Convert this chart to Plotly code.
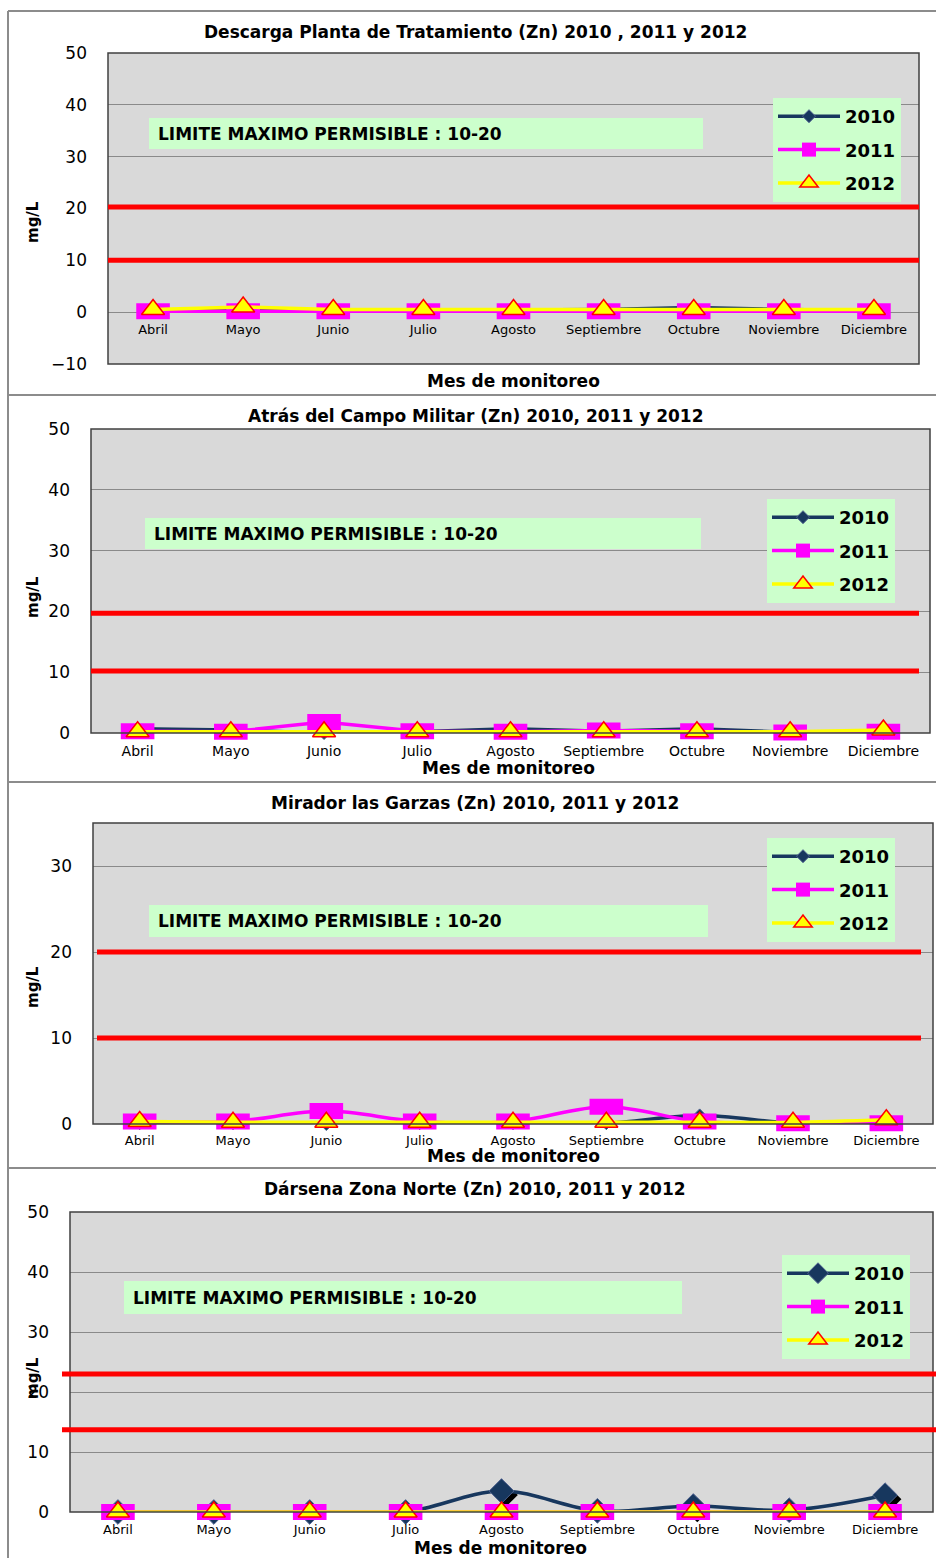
import plotly.graph_objects as go

W, H = 936, 1558

# ---------------- data ----------------
months = ["Abril", "Mayo", "Junio", "Julio", "Agosto", "Septiembre", "Octubre", "Noviembre", "Diciembre"]
years = ["2010", "2011", "2012"]

titles = [
    "Descarga Planta de Tratamiento (Zn) 2010 , 2011 y 2012",
    "Atrás del Campo Militar (Zn) 2010, 2011 y 2012",
    "Mirador las Garzas (Zn) 2010, 2011 y 2012",
    "Dársena Zona Norte (Zn) 2010, 2011 y 2012",
]

p1_2010 = [0.3, 0.3, 0.3, 0.3, 0.4, 0.5, 0.9, 0.5, 0.3]
p1_2011 = [0.2, 0.2, 0.2, 0.2, 0.2, 0.2, 0.2, 0.2, 0.2]
p1_2012 = [0.5, 1.0, 0.5, 0.5, 0.5, 0.5, 0.5, 0.5, 0.5]

p2_2010 = [0.7, 0.5, 0.0, 0.2, 0.7, 0.3, 0.7, 0.1, 0.0]
p2_2011 = [0.3, 0.2, 1.8, 0.3, 0.2, 0.4, 0.3, 0.1, 0.2]
p2_2012 = [0.2, 0.2, 0.2, 0.2, 0.2, 0.2, 0.2, 0.2, 0.5]

p3_2010 = [0.1, 0.1, 0.0, 0.1, 0.1, 0.1, 1.0, 0.1, 0.0]
p3_2011 = [0.3, 0.3, 1.5, 0.3, 0.3, 2.0, 0.3, 0.1, 0.1]
p3_2012 = [0.3, 0.2, 0.2, 0.2, 0.2, 0.2, 0.2, 0.2, 0.5]

p4_2010 = [0.0, 0.0, 0.0, 0.0, 3.5, 0.2, 1.0, 0.3, 2.8]
p4_2011 = [0.0, 0.0, 0.0, 0.0, 0.0, 0.0, 0.0, 0.0, 0.0]
p4_2012 = [0.0, 0.0, 0.0, 0.0, 0.0, 0.0, 0.0, 0.0, 0.0]

series = [
    (p1_2010, p1_2011, p1_2012),
    (p2_2010, p2_2011, p2_2012),
    (p3_2010, p3_2011, p3_2012),
    (p4_2010, p4_2011, p4_2012),
]

limits = [(20.3, 10.0), (19.7, 10.2), (20.0, 10.0), (23.0, 13.7)]
y_ranges = [(-10, 50), (0, 50), (0, 35), (0, 50)]
limit_text = "LIMITE MAXIMO PERMISIBLE : 10-20"
x_title = "Mes de monitoreo"
y_title = "mg/L"

# ---------------- layout geometry (pixels) ----------------
panels = [
    dict(plot=(108, 919, 53, 364), title_y=32, xt=(513, 381), yl=(33, 222),
         green=(149, 703, 118, 149), legend=(773, 98), tickfont=13, standoff=8,
         red=(108, 919), shape="linear", dsize=10, shadow=False),
    dict(plot=(91, 930, 429, 733), title_y=416, xt=(509, 768), yl=(33, 597),
         green=(145, 701, 518, 549), legend=(767, 499), tickfont=14, standoff=8,
         red=(91, 919), shape="linear", dsize=10, shadow=False),
    dict(plot=(93, 933, 823, 1124), title_y=803, xt=(513, 1156), yl=(33, 987),
         green=(149, 708, 905, 937), legend=(767, 838), tickfont=13, standoff=7,
         red=(97, 921), shape="spline", dsize=10, shadow=False),
    dict(plot=(70, 933, 1212, 1512), title_y=1189, xt=(500, 1548), yl=(33, 1378),
         green=(124, 682, 1281, 1314), legend=(782, 1255), tickfont=13, standoff=8,
         red=(62, 936), shape="spline", dsize=19, shadow=True),
]
SHADOW_PX = 4


def fx(x):
    return x / W


def fy(y):
    return 1 - y / H


FONT = "DejaVu Sans"
NAVY = "#17375E"
PINK = "#FF00FF"
YELLOW = "#FFFF00"
GREEN = "#CCFFCC"

fig = go.Figure()
layout = dict(
    width=W, height=H, margin=dict(l=0, r=0, t=0, b=0, pad=0),
    paper_bgcolor="white", plot_bgcolor="#D9D9D9",
    font=dict(family=FONT, color="black"),
    showlegend=True,
)
shapes = []
annotations = []

# panel borders
for yb in [11, 395, 782, 1168]:
    shapes.append(dict(type="line", xref="paper", yref="paper", x0=fx(8), x1=1, y0=fy(yb), y1=fy(yb),
                       line=dict(color="#8C8C8C", width=2)))
shapes.append(dict(type="line", xref="paper", yref="paper", x0=fx(8), x1=fx(8), y0=fy(11), y1=0,
                   line=dict(color="#8C8C8C", width=2)))


def marker_traces(xr, yr, s2010, s2011, s2012, p, leg, n, shadow=False):
    col = "black"
    traces = []
    if shadow:
        traces.append(go.Scatter(x=months, y=s2010, xaxis=xr, yaxis=yr, mode="markers", showlegend=False,
                                 cliponaxis=False, hoverinfo="skip",
                                 marker=dict(symbol="diamond", size=p["dsize"], color=col)))
        traces.append(go.Scatter(x=months, y=s2011, xaxis=xr, yaxis=yr, mode="markers", showlegend=False,
                                 cliponaxis=False, hoverinfo="skip",
                                 marker=dict(symbol="line-ew", size=24, color=col, line=dict(color=col, width=16))))
        traces.append(go.Scatter(x=months, y=s2012, xaxis=xr, yaxis=yr, mode="markers", showlegend=False,
                                 cliponaxis=False, hoverinfo="skip",
                                 marker=dict(symbol="triangle-up", size=20, color=col)))
        return traces
    traces.append(go.Scatter(
        x=months, y=s2010, name=years[0], xaxis=xr, yaxis=yr, legend=leg, legendgroup="a" + n,
        mode="lines+markers", cliponaxis=False,
        line=dict(color=NAVY, width=3.5, shape=p["shape"]),
        marker=dict(symbol="diamond", size=p["dsize"], color=NAVY, line=dict(color="#4F6290", width=1))))
    traces.append(go.Scatter(
        x=months, y=s2011, name=years[1], xaxis=xr, yaxis=yr, legend=leg, legendgroup="b" + n,
        mode="lines+markers", cliponaxis=False,
        line=dict(color=PINK, width=3.5, shape=p["shape"]),
        marker=dict(symbol="square", size=14, color=PINK, line=dict(width=0))))
    traces.append(go.Scatter(
        x=months, y=s2011, name=years[1], xaxis=xr, yaxis=yr, showlegend=False, legendgroup="b" + n,
        mode="markers", cliponaxis=False, hoverinfo="skip",
        marker=dict(symbol="line-ew", size=24, color=PINK, line=dict(color=PINK, width=16))))
    traces.append(go.Scatter(
        x=months, y=s2012, name=years[2], xaxis=xr, yaxis=yr, legend=leg, legendgroup="c" + n,
        mode="lines+markers", cliponaxis=False,
        line=dict(color=YELLOW, width=3.5, shape=p["shape"]),
        marker=dict(symbol="triangle-up", size=20, color=YELLOW, line=dict(color="#FF0000", width=1.5))))
    return traces


extra = 5
for i, p in enumerate(panels):
    n = "" if i == 0 else str(i + 1)
    xr, yr = "x" + n, "y" + n
    leg = "legend" + n
    l, r, t, b = p["plot"]
    ymin, ymax = y_ranges[i]
    s2010, s2011, s2012 = series[i]

    xa = dict(domain=[fx(l), fx(r)], range=[-0.5, 8.5], type="category",
              categoryorder="array", categoryarray=months, automargin=False,
              showgrid=False, showline=False, zeroline=False, ticks="",
              tickfont=dict(family=FONT, size=p["tickfont"]),
              ticklabelstandoff=p["standoff"], fixedrange=True)
    if ymin < 0:
        y0px = t + (ymax - 0) / (ymax - ymin) * (b - t)
        xa.update(anchor="free", position=fy(y0px))
    else:
        xa.update(anchor=yr)
    layout["xaxis" + n] = xa
    layout["yaxis" + n] = dict(domain=[fy(b), fy(t)], range=[ymin, ymax], anchor=xr, automargin=False,
                               dtick=10, tick0=0, showgrid=True, gridcolor="#8A8A8A", gridwidth=1,
                               zeroline=False, showline=False, ticks="",
                               tickfont=dict(family=FONT, size=17),
                               ticklabelstandoff=20, fixedrange=True)

    if p["shadow"]:
        # shadow layer: overlay axes shifted a few pixels right/down
        dx = SHADOW_PX / ((r - l) / 9.0)
        dy = SHADOW_PX / ((b - t) / (ymax - ymin))
        sx, sy = "x" + str(extra), "y" + str(extra)
        layout["xaxis" + str(extra)] = dict(overlaying=xr, domain=[fx(l), fx(r)], anchor=sy, visible=False,
                                            type="category", categoryorder="array", categoryarray=months,
                                            range=[-0.5 - dx, 8.5 - dx], fixedrange=True)
        layout["yaxis" + str(extra)] = dict(overlaying=yr, domain=[fy(b), fy(t)], anchor=sx, visible=False,
                                            range=[ymin + dy, ymax + dy], fixedrange=True)
        for tr in marker_traces(sx, sy, s2010, s2011, s2012, p, leg, n, shadow=True):
            fig.add_trace(tr)
        mx, my = "x" + str(extra + 1), "y" + str(extra + 1)
        layout["xaxis" + str(extra + 1)] = dict(overlaying=xr, domain=[fx(l), fx(r)], anchor=my, visible=False,
                                                type="category", categoryorder="array", categoryarray=months,
                                                range=[-0.5, 8.5], fixedrange=True)
        layout["yaxis" + str(extra + 1)] = dict(overlaying=yr, domain=[fy(b), fy(t)], anchor=mx, visible=False,
                                                range=[ymin, ymax], fixedrange=True)
        for tr in marker_traces(mx, my, s2010, s2011, s2012, p, leg, n):
            fig.add_trace(tr)
    else:
        for tr in marker_traces(xr, yr, s2010, s2011, s2012, p, leg, n):
            fig.add_trace(tr)

    lx, ly = p["legend"]
    layout[leg] = dict(x=fx(lx), y=fy(ly), xanchor="left", yanchor="top",
                       bgcolor=GREEN, borderwidth=0, tracegroupgap=7, itemwidth=62,
                       font=dict(family=FONT, size=18, weight="bold"),
                       itemclick=False, itemdoubleclick=False)

    shapes.append(dict(type="rect", xref=xr + " domain", yref=yr + " domain", x0=0, x1=1, y0=0, y1=1,
                       line=dict(color="#404040", width=1.5), layer="above"))
    rl, rr = p["red"]
    for lim in limits[i]:
        shapes.append(dict(type="line", xref="paper", yref=yr, x0=fx(rl), x1=fx(rr), y0=lim, y1=lim,
                           line=dict(color="#FF0000", width=5), layer="above"))
    gl, gr, gt, gb = p["green"]
    shapes.append(dict(type="rect", xref="paper", yref="paper", x0=fx(gl), x1=fx(gr), y0=fy(gb), y1=fy(gt),
                       fillcolor=GREEN, line=dict(width=0), layer="above"))
    annotations.append(dict(xref="paper", yref="paper", x=fx(gl + 7), y=fy((gt + gb) / 2),
                            xanchor="left", yanchor="middle", showarrow=False, text=limit_text,
                            font=dict(family=FONT, size=17, weight="bold")))
    annotations.append(dict(xref="paper", yref="paper", x=fx(475), y=fy(p["title_y"]),
                            xanchor="center", yanchor="middle", showarrow=False, text=titles[i],
                            font=dict(family=FONT, size=17, weight="bold")))
    tx, ty = p["xt"]
    annotations.append(dict(xref="paper", yref="paper", x=fx(tx), y=fy(ty),
                            xanchor="center", yanchor="middle", showarrow=False, text=x_title,
                            font=dict(family=FONT, size=17, weight="bold")))
    yx, yy = p["yl"]
    annotations.append(dict(xref="paper", yref="paper", x=fx(yx), y=fy(yy),
                            xanchor="center", yanchor="middle", showarrow=False, text=y_title,
                            textangle=-90, font=dict(family=FONT, size=15, weight="bold")))

layout["shapes"] = shapes
layout["annotations"] = annotations
fig.update_layout(**layout)
fig.write_html("out.html")
